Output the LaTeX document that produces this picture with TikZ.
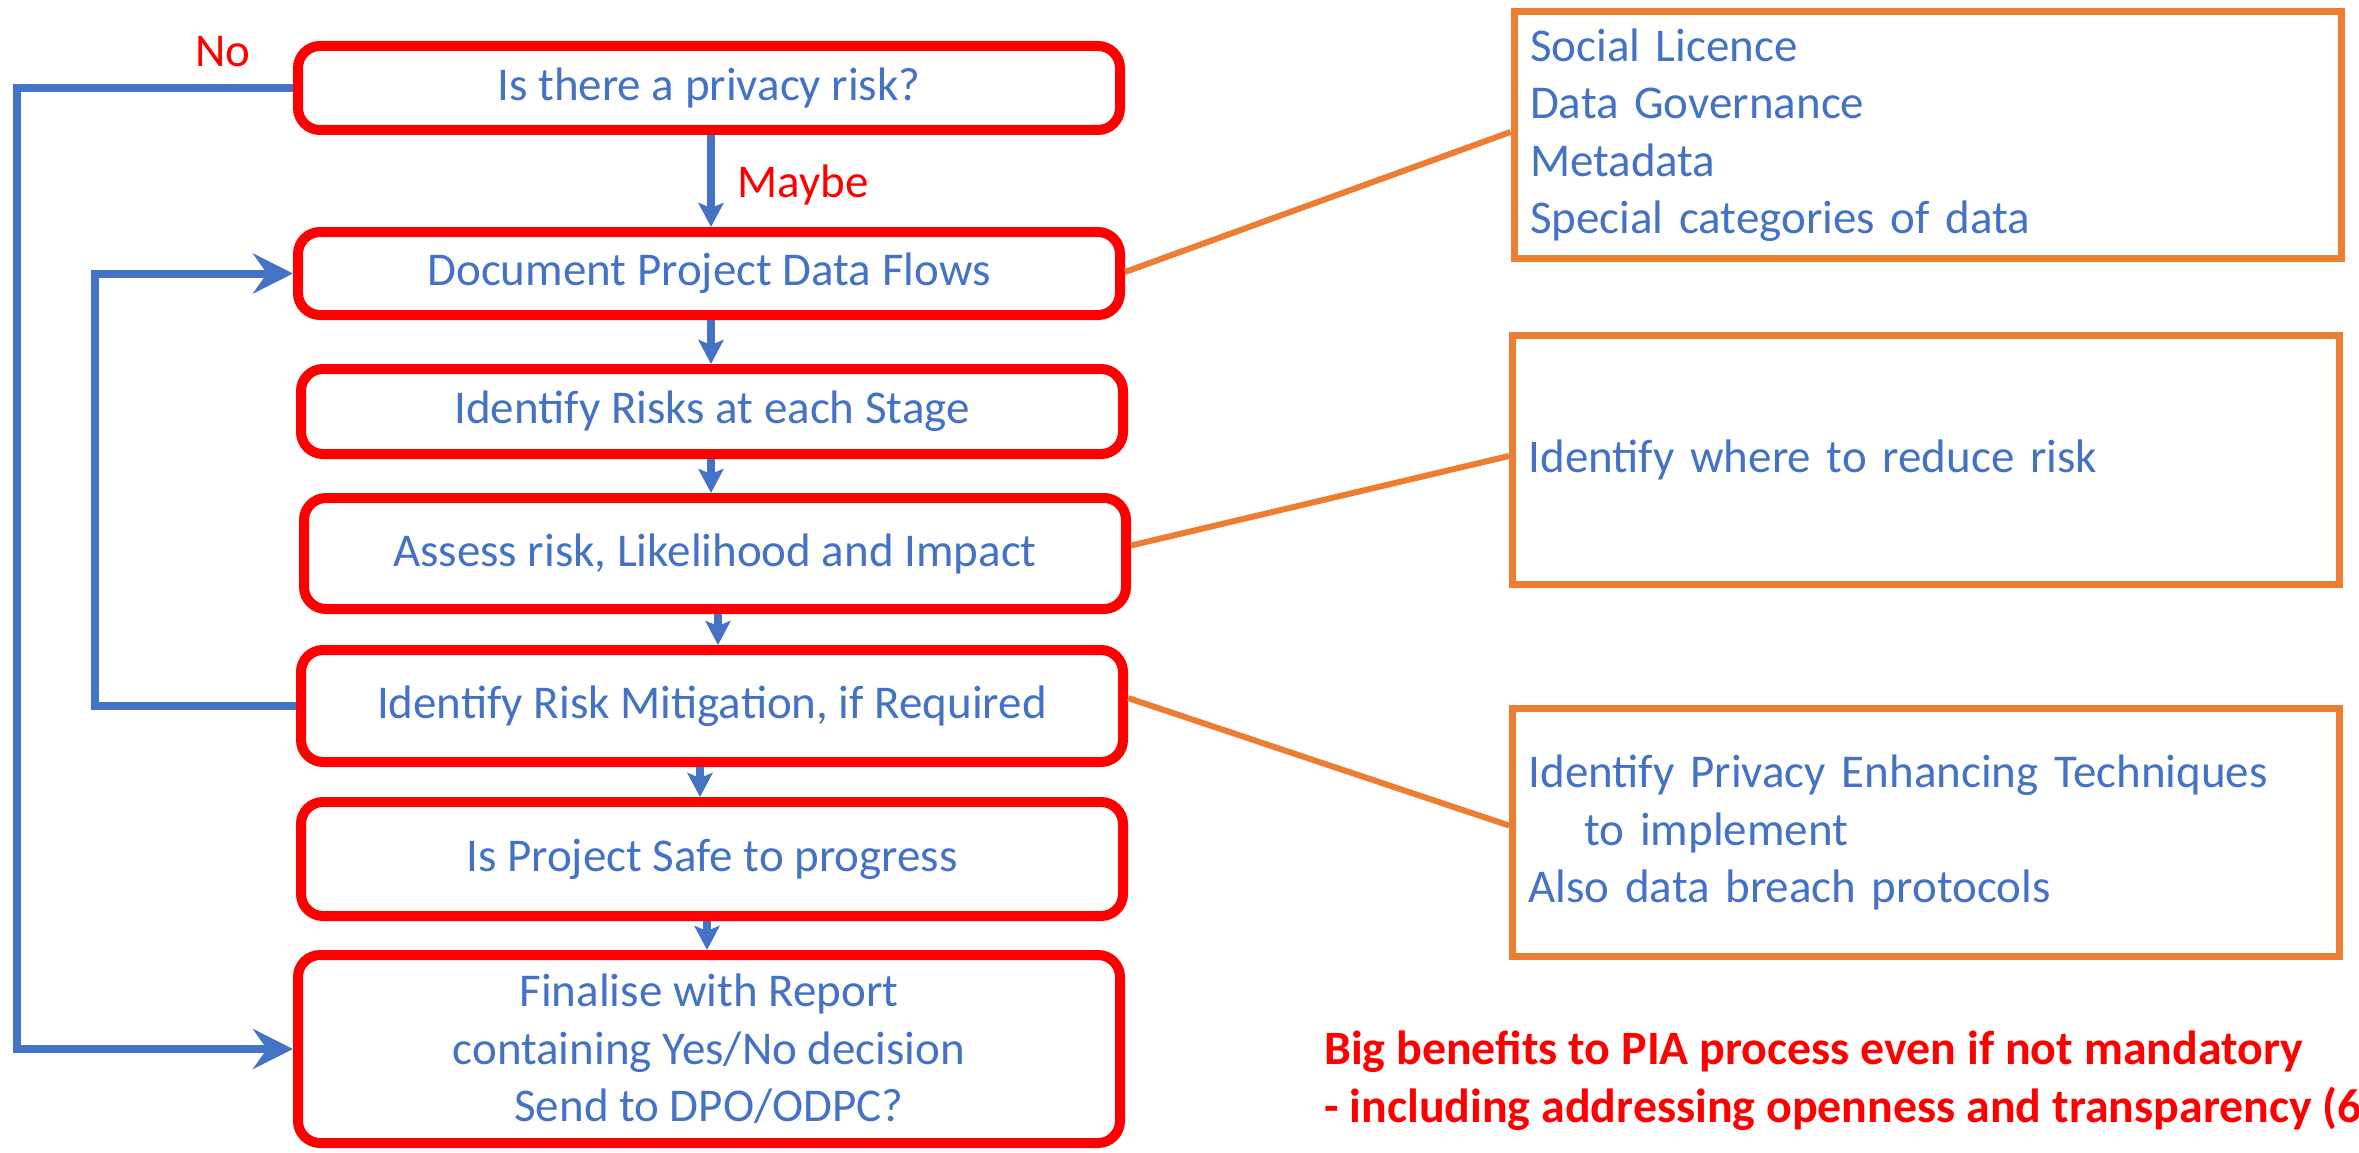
\documentclass[tikz,border=0pt]{standalone}
\usepackage{fontspec}
\setmainfont{Carlito}
\usetikzlibrary{arrows.meta,calc}
\definecolor{ofblue}{HTML}{4472C4}
\definecolor{ofred}{HTML}{FF0000}
\definecolor{oforange}{HTML}{ED7D31}

\begin{document}
\begin{tikzpicture}[x=1pt,y=-1pt,
  every node/.style={font=\fontsize{47}{57.5}\selectfont, text=ofblue},
  stepbox/.style={draw=ofred, line width=10pt, rounded corners=22pt, fill=white,
    minimum width=822pt, inner sep=0pt, align=center},
  notebox/.style={draw=oforange, line width=7pt, fill=white, minimum width=827pt,
    text width=795pt, inner xsep=16pt, inner ysep=0pt, align=left},
  flow/.style={draw=ofblue, line width=8pt},
  smalltip/.style={-{Stealth[length=24pt,width=25pt,inset=5pt]}},
  bigtip/.style={-{Stealth[length=40pt,width=40pt,inset=14pt]}},
  link/.style={draw=oforange, line width=6pt},
  lbl/.style={text=ofred, inner sep=0pt, anchor=base west},
  remark/.style={font=\fontsize{47.9}{58}\selectfont\bfseries, text=ofred,
    inner sep=0pt, anchor=base west}
]
\useasboundingbox (0,0) rectangle (2359,1153);
\fill[white] (0,0) rectangle (2359,1153);
\clip (0,0) rectangle (2359,1153);

% process steps
\node[stepbox, minimum height=84pt]  (b1) at (709,88)    {Is there a privacy risk?};
\node[stepbox, minimum height=83pt]  (b2) at (709,273.5) {Document Project Data Flows};
\node[stepbox, minimum height=85pt]  (b3) at (712,411.5) {Identify Risks at each Stage};
\node[stepbox, minimum height=111pt] (b4) at (715,553.5) {Assess risk, Likelihood and Impact};
\node[stepbox, minimum height=112pt] (b5) at (712,706)   {Identify Risk Mitigation, if Required};
\node[stepbox, minimum height=114pt] (b6) at (712,859)   {Is Project Safe to progress};
\node[stepbox, minimum height=188pt] (b7) at (709,1049)
  {Finalise with Report\\containing Yes/No decision\\Send to DPO/ODPC?};

% notes
\node[notebox, minimum height=247pt] (nA) at (1927.5,135)
  {Social Licence\\Data Governance\\Metadata\\Special categories of data};
\node[notebox, minimum height=249pt] (nB) at (1926,460) {Identify where to reduce risk};
\node[notebox, minimum height=248pt] (nC) at (1926,832.5)
  {Identify Privacy Enhancing Techniques\\\hspace*{56pt}to implement\\Also data breach protocols};

% downward flow
\draw[flow, smalltip] ([xshift=2pt]b1.south)  -- ([xshift=2pt]b1.south |- b2.north);
\draw[flow, smalltip] ([xshift=2pt]b2.south)  -- ([xshift=2pt]b2.south |- b3.north);
\draw[flow, smalltip] ([xshift=-1pt]b3.south) -- ([xshift=-1pt]b3.south |- b4.north);
\draw[flow, smalltip] ([xshift=3pt]b4.south)  -- ([xshift=3pt]b4.south |- b5.north);
\draw[flow, smalltip] ([xshift=-12pt]b5.south) -- ([xshift=-12pt]b5.south |- b6.north);
\draw[flow, smalltip] ([xshift=-5pt]b6.south) -- ([xshift=-5pt]b6.south |- b7.north);

% return paths
\coordinate (noX) at (17,0);
\coordinate (loopX) at (95,0);
\draw[flow, bigtip] (b1.west) -- (b1.west -| noX) |- (b7.west);
\draw[flow, bigtip] (b5.west) -- (b5.west -| loopX) |- (b2.west);

% labels
\node[lbl] (maybe) at (737,197) {Maybe};
\node[lbl] (no) at (195,67) {No};

% note links
\draw[link] ([yshift=1.5pt]b2.east) -- ([yshift=3pt]nA.west);
\draw[link] ([yshift=8pt]b4.east) -- ([yshift=4pt]nB.west);
\draw[link] ([yshift=8pt]b5.east) -- ([yshift=7pt]nC.west);

% closing remark
\node[remark] (r1) at (1324,1064) {Big benefits to PIA process even if not mandatory};
\node[remark] (r2) at (1324,1122) {- including addressing openness and transparency (6};
\end{tikzpicture}
\end{document}
